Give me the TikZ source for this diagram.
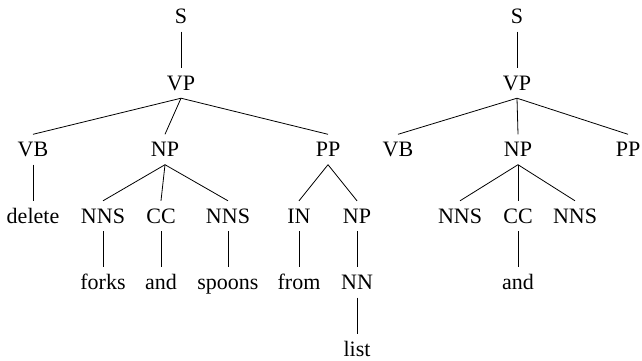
\documentclass[tikz,border=0pt]{standalone}
\usepackage{fontspec}
\setmainfont{Liberation Serif}
\begin{document}
\begin{tikzpicture}[x=1pt,y=-1pt,
  tn/.style={anchor=base,inner xsep=0pt,inner ysep=7pt,text height=15pt,text depth=1pt,font=\fontsize{22}{26}\selectfont},
  br/.style={line width=0.8pt}]
\useasboundingbox (0,0) rectangle (642,360);
% left tree
\node[tn] (S1) at (181,23.5) {S};
\node[tn] (VP1) at (181,90) {VP};
\node[tn] (VB1) at (33,156.5) {VB};
\node[tn] (NP1) at (165,156.5) {NP};
\node[tn] (PP1) at (328,156.5) {PP};
\node[tn] (del) at (33,223) {delete};
\node[tn] (NNS1a) at (103,223) {NNS};
\node[tn] (CC1) at (161,223) {CC};
\node[tn] (NNS1b) at (228,223) {NNS};
\node[tn] (IN1) at (299,223) {IN};
\node[tn] (NP1b) at (357,223) {NP};
\node[tn] (forks) at (103,289.5) {forks};
\node[tn] (and1) at (161,289.5) {and};
\node[tn] (spoons) at (228,289.5) {spoons};
\node[tn] (from) at (299,289.5) {from};
\node[tn] (NN1) at (357,289.5) {NN};
\node[tn] (list) at (357,356) {list};
\draw[br] (S1.south) -- (VP1.north);
\draw[br] (VP1.south) -- (VB1.north);
\draw[br] (VP1.south) -- (NP1.north);
\draw[br] (VP1.south) -- (PP1.north);
\draw[br] (VB1.south) -- (del.north);
\draw[br] (NP1.south) -- (NNS1a.north);
\draw[br] (NP1.south) -- (CC1.north);
\draw[br] (NP1.south) -- (NNS1b.north);
\draw[br] (PP1.south) -- (IN1.north);
\draw[br] (PP1.south) -- (NP1b.north);
\draw[br] (NNS1a.south) -- (forks.north);
\draw[br] (CC1.south) -- (and1.north);
\draw[br] (NNS1b.south) -- (spoons.north);
\draw[br] (IN1.south) -- (from.north);
\draw[br] (NP1b.south) -- (NN1.north);
\draw[br] (NN1.south) -- (list.north);
% right tree
\node[tn] (S2) at (517,23.5) {S};
\node[tn] (VP2) at (517,90) {VP};
\node[tn] (VB2) at (398,156.5) {VB};
\node[tn] (NP2) at (518,156.5) {NP};
\node[tn] (PP2) at (628,156.5) {PP};
\node[tn] (NNS2a) at (460,223) {NNS};
\node[tn] (CC2) at (518,223) {CC};
\node[tn] (NNS2b) at (575,223) {NNS};
\node[tn] (and2) at (518,289.5) {and};
\draw[br] (S2.south) -- (VP2.north);
\draw[br] (VP2.south) -- (VB2.north);
\draw[br] (VP2.south) -- (NP2.north);
\draw[br] (VP2.south) -- (PP2.north);
\draw[br] (NP2.south) -- (NNS2a.north);
\draw[br] (NP2.south) -- (CC2.north);
\draw[br] (NP2.south) -- (NNS2b.north);
\draw[br] (CC2.south) -- (and2.north);
\end{tikzpicture}
\end{document}
